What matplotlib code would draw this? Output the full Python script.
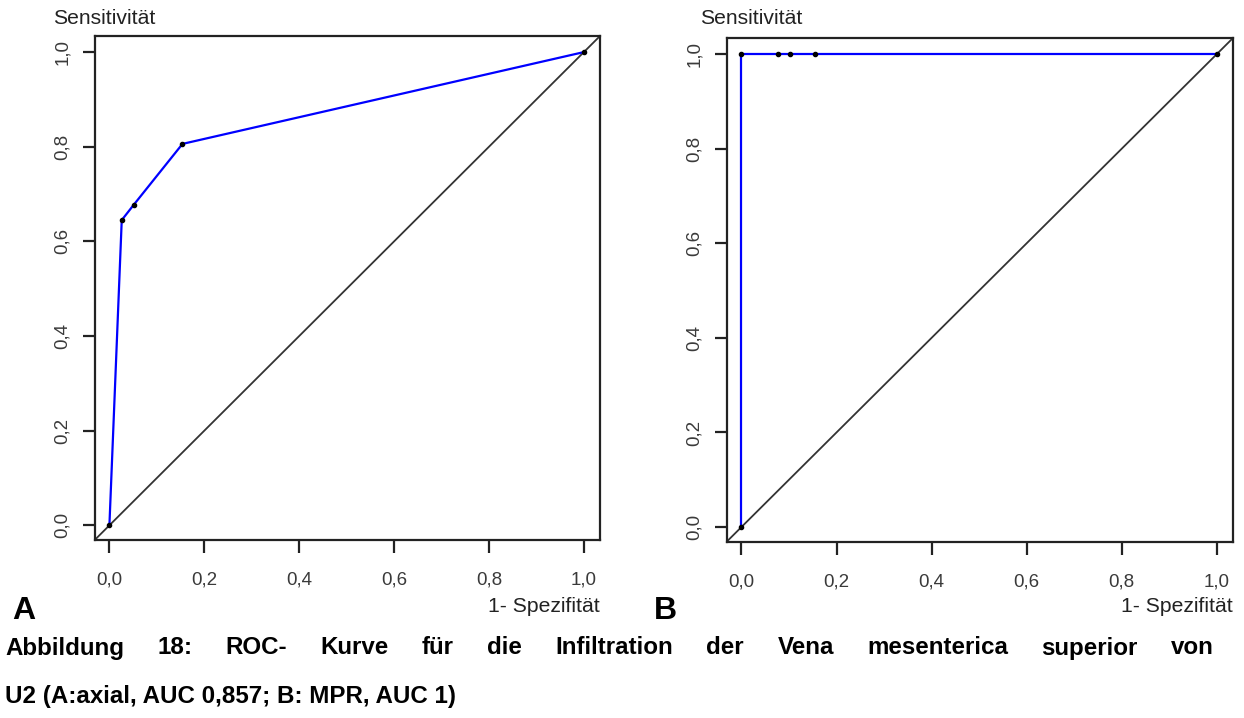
import matplotlib
matplotlib.use("Agg")
import matplotlib.pyplot as plt
from matplotlib.ticker import FuncFormatter

plt.rcParams['font.family'] = ['Liberation Sans', 'DejaVu Sans']

# ROC points (1 - specificity, sensitivity)
fpr_axial = [0.0, 0.026, 0.051, 0.154, 1.0]
tpr_axial = [0.0, 0.645, 0.677, 0.806, 1.0]

fpr_mpr = [0.0, 0.0, 0.077, 0.103, 0.154, 1.0]
tpr_mpr = [0.0, 1.0, 1.0, 1.0, 1.0, 1.0]

ticks = [0.0, 0.2, 0.4, 0.6, 0.8, 1.0]
panel_names = ['A', 'B']
caption = ["Abbildung 18: ROC- Kurve für die Infiltration der Vena mesenterica superior von",
           "U2 (A:axial, AUC 0,857; B: MPR, AUC 1)"]

W, H = 1244, 718
fig = plt.figure(figsize=(W / 100, H / 100), dpi=100)

def px(x, y):
    return x / W, 1 - y / H

comma = FuncFormatter(lambda v, p: f"{v:.1f}".replace('.', ','))

def roc_panel(rect, fpr, tpr):
    ax = fig.add_axes(rect)
    ax.set_xlim(-0.031, 1.034)
    ax.set_ylim(-0.031, 1.034)
    ax.axline((0, 0), slope=1, color='#333333', lw=1.3, zorder=1)
    ax.plot(fpr, tpr, color='#0000ff', lw=1.6, zorder=2)
    ax.plot(fpr, tpr, 'o', color='black', ms=3, zorder=3)
    ax.set_xticks(ticks)
    ax.set_yticks(ticks)
    ax.xaxis.set_major_formatter(comma)
    ax.yaxis.set_major_formatter(comma)
    for s in ax.spines.values():
        s.set_linewidth(1.6)
        s.set_color('#222222')
    ax.tick_params(length=9, width=1.6, color='#222222', labelsize=13.5,
                   labelcolor='#3a3a3a')
    ax.tick_params(axis='x', pad=14)
    ax.tick_params(axis='y', pad=8)
    for lab in ax.get_yticklabels():
        lab.set_rotation(90)
        lab.set_va('center')
    return ax

axA = roc_panel([94.7 / W, 1 - 540 / H, (600 - 94.7) / W, (540 - 36) / H], fpr_axial, tpr_axial)
axB = roc_panel([726.7 / W, 1 - 541.7 / H, (1233 - 726.7) / W, (541.7 - 38) / H], fpr_mpr, tpr_mpr)

lab_kw = dict(fontsize=15.2, color='#222222')
fig.text(*px(53, 18), 'Sensitivität', ha='left', va='center', **lab_kw)
fig.text(*px(700, 18), 'Sensitivität', ha='left', va='center', **lab_kw)
fig.text(*px(600, 607), '1- Spezifität', ha='right', va='center', **lab_kw)
fig.text(*px(1233, 607), '1- Spezifität', ha='right', va='center', **lab_kw)

fig.text(*px(12, 619), panel_names[0], fontsize=23, fontweight='bold', va='baseline')
fig.text(*px(654, 619), panel_names[1], fontsize=23, fontweight='bold', va='baseline')

# first caption line is justified between x=5 and x=1214
cap_kw = dict(fontsize=17.4, fontweight='bold', va='center')
renderer = fig.canvas.get_renderer()
words = caption[0].split()
items = [fig.text(0, 0, w, **cap_kw) for w in words]
widths = [t.get_window_extent(renderer).width for t in items]
gap = (1214 - 5 - sum(widths)) / (len(words) - 1)
x = 5
for t, w in zip(items, widths):
    t.set_position(px(x, 648))
    x += w + gap

fig.text(*px(5, 697), caption[1], **cap_kw)

fig.savefig('out.png', dpi=100, facecolor='white')
